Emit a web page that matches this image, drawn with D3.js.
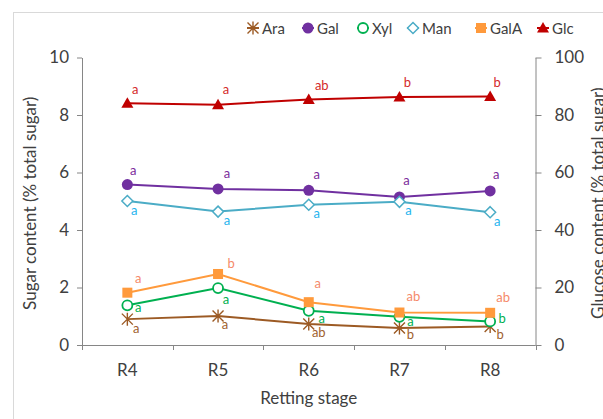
<!DOCTYPE html>
<html><head><meta charset="utf-8">
<script src="https://cdn.jsdelivr.net/npm/d3@7"></script>
<style>body{margin:0;background:#fff}svg{display:block;font-family:Lato,"Liberation Sans",sans-serif}</style>
</head><body><svg id="c" width="603" height="419"></svg>
<script>
const stages = ["R4","R5","R6","R7","R8"];
const leftTicks = [0,2,4,6,8,10];
const rightTicks = [0,20,40,60,80,100];
const seriesNames = ["Ara","Gal","Xyl","Man","GalA","Glc"];
const ara = [0.90,1.01,0.73,0.59,0.64];
const gal = [5.58,5.43,5.38,5.15,5.36];
const xyl = [1.38,1.98,1.19,0.98,0.82];
const man = [5.01,4.64,4.88,4.98,4.62];
const galA = [1.82,2.47,1.49,1.13,1.12];
const glc = [84.1,83.6,85.4,86.3,86.4];
const araLetters = ["a","a","ab","b","b"];
const galLetters = ["a","a","a","a","a"];
const xylLetters = ["a","a","a","a","b"];
const manLetters = ["a","a","a","a","a"];
const galALetters = ["a","b","a","ab","ab"];
const glcLetters = ["a","a","ab","b","b"];

// styling / layout (not data)
const style = {
  Ara:{color:"#9C5A24",label:"#A0612E",shape:"star",axis:"L",off:[[9,9],[7,8],[10,8],[11,6],[10,7]]},
  Gal:{color:"#7030A0",label:"#7B2C9C",shape:"circleF",axis:"L",off:[[6,-15],[9,-16],[8,-16],[7,-17],[6,-17]]},
  Xyl:{color:"#00B050",label:"#00B050",shape:"circleO",axis:"L",off:[[11,2],[8,11],[13,7],[11,4],[12,-3]]},
  Man:{color:"#4BACC6",label:"#1FB4EE",shape:"diamond",axis:"L",off:[[7,9],[9,8],[8,8],[9,8],[7,9]]},
  GalA:{color:"#FF9A3C",label:"#F58A6A",shape:"square",axis:"L",off:[[11,-15],[13,-11],[9,-19],[14,-17],[13,-16]]},
  Glc:{color:"#C00000",label:"#D42A2A",shape:"triangle",axis:"R",off:[[8,-14],[8,-16],[13,-14],[8,-15],[7,-15]]}
};
const values = {Ara:ara,Gal:gal,Xyl:xyl,Man:man,GalA:galA,Glc:glc};
const letters = {Ara:araLetters,Gal:galLetters,Xyl:xylLetters,Man:manLetters,GalA:galALetters,Glc:glcLetters};

const svg = d3.select("#c");
const X0=82, X1=535.5, Y0=345, Y1=57.5;
const x = d3.scaleBand().domain(stages).range([X0,X1]).padding(0);
const yL = d3.scaleLinear().domain([0,10]).range([Y0,Y1]);
const yR = d3.scaleLinear().domain([0,100]).range([Y0,Y1]);
const cx = s => x(s)+x.bandwidth()/2;

svg.append("rect").attr("x",13.5).attr("y",12.5).attr("width",700).attr("height",500)
  .attr("fill","none").attr("stroke","#D9D9D9");

const axisColor="#868686", textColor="#404040";
function styleAxis(g){
  g.select(".domain").attr("stroke",axisColor);
  g.selectAll(".tick line").attr("stroke",axisColor);
  g.selectAll(".tick text").attr("fill",textColor).style("font-size","17px").style("font-family","Lato,'Liberation Sans',sans-serif");
}
const gl = svg.append("g").attr("transform",`translate(${X0},0)`)
  .call(d3.axisLeft(yL).tickValues(leftTicks).tickSize(5).tickSizeOuter(0).tickPadding(8));
styleAxis(gl);
const gr = svg.append("g").attr("transform",`translate(${X1},0)`)
  .call(d3.axisRight(yR).tickValues(rightTicks).tickSize(6).tickSizeOuter(0).tickPadding(13));
styleAxis(gr);
const gx = svg.append("g").attr("transform",`translate(0,${Y0})`)
  .call(d3.axisBottom(x).tickSize(0).tickSizeOuter(0).tickPadding(19));
styleAxis(gx);
gx.select(".domain").attr("d",`M${X0-5},0.5H${X1}`);
// band-boundary tick marks
const bounds = stages.map(s=>x(s)).concat([X1]);
gx.selectAll("line.bt").data(bounds).enter().append("line").attr("class","bt")
  .attr("x1",d=>Math.round(d)+0.5).attr("x2",d=>Math.round(d)+0.5).attr("y1",0).attr("y2",5).attr("stroke",axisColor);

svg.append("text").attr("transform",`translate(36,${(Y0+Y1)/2+2}) rotate(-90)`)
  .attr("text-anchor","middle").attr("fill",textColor).style("font-size","17px").text("Sugar content (% total sugar)");
svg.append("text").attr("transform",`translate(604,${(Y0+Y1)/2+2}) rotate(-90)`)
  .attr("text-anchor","middle").attr("fill",textColor).style("font-size","17px").text("Glucose content (% total sugar)");
svg.append("text").attr("x",(X0+X1)/2).attr("y",404).attr("text-anchor","middle").attr("fill",textColor)
  .style("font-size","17px").text("Retting stage");

function drawMarker(g, shape, color, px, py){
  if(shape==="star"){
    const r=5.5;
    g.append("path").attr("d",`M${px-r},${py-r}L${px+r},${py+r}M${px-r},${py+r}L${px+r},${py-r}M${px},${py-r-1}L${px},${py+r+1}`)
      .attr("stroke",color).attr("stroke-width",1.4).attr("fill","none");
  } else if(shape==="circleF"){
    g.append("circle").attr("cx",px).attr("cy",py).attr("r",5.5).attr("fill",color);
  } else if(shape==="circleO"){
    g.append("circle").attr("cx",px).attr("cy",py).attr("r",5).attr("fill","#fff").attr("stroke",color).attr("stroke-width",1.8);
  } else if(shape==="diamond"){
    const r=5.5;
    g.append("path").attr("d",`M${px},${py-r}L${px+r},${py}L${px},${py+r}L${px-r},${py}Z`).attr("fill","#fff").attr("stroke",color).attr("stroke-width",1.5);
  } else if(shape==="square"){
    g.append("rect").attr("x",px-5).attr("y",py-5).attr("width",10).attr("height",10).attr("fill",color);
  } else if(shape==="triangle"){
    g.append("path").attr("d",`M${px},${py-6}L${px+6},${py+4.5}L${px-6},${py+4.5}Z`).attr("fill",color);
  }
}

seriesNames.forEach(name=>{
  const st=style[name], vals=values[name], y = st.axis==="L"?yL:yR;
  const g = svg.append("g");
  const line = d3.line().x((d,i)=>cx(stages[i])).y(d=>y(d));
  g.append("path").datum(vals).attr("d",line).attr("fill","none").attr("stroke",st.color).attr("stroke-width",2);
  vals.forEach((v,i)=>drawMarker(g, st.shape, st.color, cx(stages[i]), y(v)));
  vals.forEach((v,i)=>{
    g.append("text").attr("x",cx(stages[i])+st.off[i][0]).attr("y",y(v)+st.off[i][1])
      .attr("text-anchor","middle").attr("dominant-baseline","central").attr("fill",st.label)
      .style("font-size","13px").text(letters[name][i]);
  });
});

// legend
const legX = {Ara:253,Gal:308,Xyl:363,Man:413,GalA:481,Glc:543};
const lg = svg.append("g");
seriesNames.forEach(name=>{
  const st=style[name], mx=legX[name], my=28;
  lg.append("line").attr("x1",mx-6).attr("x2",mx+6).attr("y1",my).attr("y2",my).attr("stroke",st.color).attr("stroke-width",2);
  drawMarker(lg, st.shape, st.color, mx, my);
  lg.append("text").attr("x",mx+9).attr("y",my).attr("dominant-baseline","central").attr("fill",textColor)
    .style("font-size","15px").text(name);
});
</script></body></html>
